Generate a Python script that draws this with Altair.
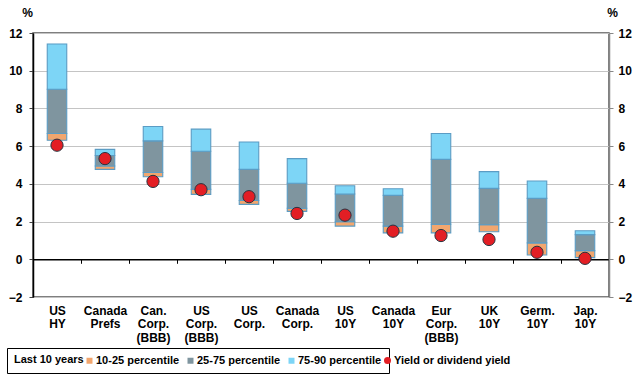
import altair as alt
import pandas as pd

categories = ["US|HY", "Canada|Prefs", "Can.|Corp.|(BBB)", "US|Corp.|(BBB)", "US|Corp.",
              "Canada|Corp.", "US|10Y", "Canada|10Y", "Eur|Corp.|(BBB)", "UK|10Y",
              "Germ.|10Y", "Jap.|10Y"]
p10 = [6.31, 4.77, 4.38, 3.44, 2.91, 2.54, 1.76, 1.40, 1.40, 1.46, 0.23, 0.09]
p25 = [6.67, 4.95, 4.60, 3.71, 3.12, 2.71, 1.99, 1.76, 1.86, 1.83, 0.87, 0.46]
p75 = [9.02, 5.50, 6.28, 5.73, 4.77, 4.03, 3.46, 3.39, 5.30, 3.76, 3.23, 1.31]
p90 = [11.42, 5.83, 7.04, 6.90, 6.22, 5.34, 3.90, 3.74, 6.67, 4.65, 4.15, 1.51]
yields = [6.05, 5.34, 4.13, 3.69, 3.32, 2.43, 2.34, 1.49, 1.26, 1.05, 0.37, 0.05]

segments = ["10-25 percentile", "25-75 percentile", "75-90 percentile"]
seg_colors = ["#F2A66E", "#7F959F", "#7DD5F6"]
yield_label = "Yield or dividend yield"

rows = []
for i, c in enumerate(categories):
    rows.append({"cat": c, "seg": segments[0], "lo": p10[i], "hi": p25[i]})
    rows.append({"cat": c, "seg": segments[1], "lo": p25[i], "hi": p75[i]})
    rows.append({"cat": c, "seg": segments[2], "lo": p75[i], "hi": p90[i]})
seg_df = pd.DataFrame(rows)
pts_df = pd.DataFrame({"cat": categories, "yld": yields, "series": [yield_label] * len(categories)})

FONT = "Liberation Sans"
W, H = 576, 264
yscale = alt.Scale(domain=[-2, 12], nice=False, zero=False)
yvals = [-2, 0, 2, 4, 6, 8, 10, 12]

x_enc = alt.X(
    "cat:N", sort=categories, title=None,
    scale=alt.Scale(paddingInner=0, paddingOuter=0),
    axis=alt.Axis(
        orient="bottom", offset=-H * 2 / 14, domainColor="black", domainWidth=1.5,
        tickBand="extent", tickSize=4, tickColor="black", tickWidth=1,
        labelExpr="split(datum.label, '|')", labelLineHeight=13.5,
        labelPadding=42, labelFont=FONT, labelFontSize=12, labelFontWeight="bold",
        labelColor="black", labelAngle=0, grid=False, labelOverlap=False,
    ),
)

left_axis = alt.Axis(
    values=yvals, grid=True, gridColor="#c4c4c4", gridWidth=1,
    domainColor="black", domainWidth=1.5, tickColor="#444", tickSize=4,
    labelFont=FONT, labelFontSize=12, labelFontWeight="bold", labelColor="black",
    labelPadding=7, title="%", titleAngle=0, titleX=-6, titleY=-21,
    titleAlign="center", titleBaseline="middle", titleFont=FONT, titleFontSize=12,
    titleFontWeight="bold", titleColor="black",
)
right_axis = alt.Axis(
    orient="right", values=yvals, grid=False,
    domainColor="#888", domainWidth=1.5, tickColor="#888", tickSize=4,
    labelFont=FONT, labelFontSize=12, labelFontWeight="bold", labelColor="black",
    labelPadding=5, title="%", titleAngle=0, titleX=3, titleY=-21,
    titleAlign="center", titleBaseline="middle", titleFont=FONT, titleFontSize=12,
    titleFontWeight="bold", titleColor="black",
)

bars = alt.Chart(seg_df).mark_bar(
    width=19.5, stroke="#5B9CC4", strokeWidth=1.1
).encode(
    x=x_enc,
    y=alt.Y("lo:Q", scale=yscale, axis=left_axis),
    y2="hi:Q",
    color=alt.Color(
        "seg:N", scale=alt.Scale(domain=segments, range=seg_colors),
        legend=alt.Legend(
            orient="none", legendX=-26, legendY=315, direction="horizontal",
            title="Last 10 years", titleOrient="left", titleFont=FONT,
            titleFontSize=11, titleFontWeight="bold", titleColor="black",
            titlePadding=0, titleBaseline="middle",
            labelFont=FONT, labelFontSize=11, labelFontWeight="bold",
            labelColor="black", labelLimit=200, labelOffset=1,
            symbolType="square", symbolSize=36, symbolStrokeWidth=0,
            columnPadding=5, strokeColor="black", padding=7,
        ),
    ),
)

points = alt.Chart(pts_df).mark_point(
    filled=True, size=150, fill="#E31E24", stroke="#2A3440", strokeWidth=1, opacity=1
).encode(
    x=x_enc,
    y=alt.Y("yld:Q", scale=yscale, axis=None),
    shape=alt.Shape(
        "series:N", scale=alt.Scale(domain=[yield_label], range=["circle"]),
        legend=alt.Legend(
            orient="none", legendX=342, legendY=315, title=None,
            labelFont=FONT, labelFontSize=11, labelFontWeight="bold",
            labelColor="black", labelLimit=200, labelOffset=1,
            symbolSize=49, symbolFillColor="#E31E24", symbolStrokeColor="#2A3440",
            symbolStrokeWidth=0.5, padding=7,
        ),
    ),
)

right = alt.Chart(pts_df).mark_point(opacity=0).encode(
    x=x_enc,
    y=alt.Y("yld:Q", scale=yscale, axis=right_axis),
)

chart = alt.layer(bars, points, right).resolve_scale(y="independent").properties(
    width=W, height=H,
    autosize=alt.AutoSizeParams(type="none"),
    padding={"left": 33, "top": 33, "right": 25, "bottom": 80},
    background="white",
).configure_view(stroke="#555555", strokeWidth=1.5)

chart.save("out.html", embed_options={"renderer": "svg", "actions": False})
